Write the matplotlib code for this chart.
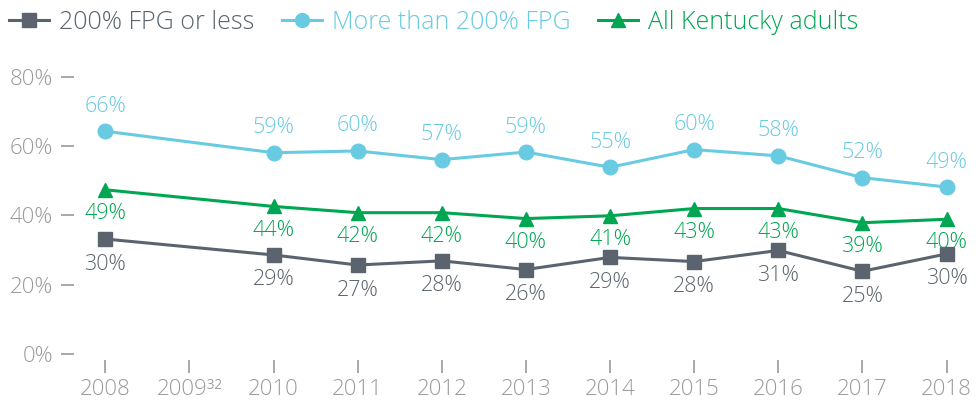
import matplotlib
matplotlib.use('Agg')
import matplotlib.pyplot as plt
import numpy as np

plt.rcParams['font.family'] = ['Open Sans', 'DejaVu Sans']
plt.rcParams['font.weight'] = 'light'

years = ['2008', '2009³²', '2010', '2011', '2012', '2013', '2014', '2015', '2016', '2017', '2018']
x_pos = [0, 2, 3, 4, 5, 6, 7, 8, 9, 10]

# plotted values (as drawn) and the printed labels
low_vals = [33.2, 28.6, 25.7, 26.9, 24.4, 27.9, 26.7, 29.9, 23.9, 28.9]
low_lbls = ['30%', '29%', '27%', '28%', '26%', '29%', '28%', '31%', '25%', '30%']
high_vals = [64.3, 58.1, 58.6, 56.1, 58.3, 53.9, 59.0, 57.2, 50.9, 48.2]
high_lbls = ['66%', '59%', '60%', '57%', '59%', '55%', '60%', '58%', '52%', '49%']
all_vals = [47.4, 42.6, 40.8, 40.8, 39.1, 39.9, 42.0, 42.0, 37.9, 38.9]
all_lbls = ['49%', '44%', '42%', '42%', '40%', '41%', '43%', '43%', '39%', '40%']

c_low = '#5b646e'
c_high = '#68cbe1'
c_all = '#00a651'
c_axis = '#9a9a9a'

fig = plt.figure(figsize=(9.76, 4.11), dpi=100)
ax = fig.add_axes([0.082, 0.130, 0.918, 0.700])

l1, = ax.plot(x_pos, low_vals, color=c_low, lw=2.2, marker='s', ms=10.5, label='200% FPG or less')
l2, = ax.plot(x_pos, high_vals, color=c_high, lw=2.2, marker='o', ms=10.5, label='More than 200% FPG')
l3, = ax.plot(x_pos, all_vals, color=c_all, lw=2.2, marker='^', ms=10.5, label='All Kentucky adults')

for x, v, t in zip(x_pos, high_vals, high_lbls):
    ax.annotate(t, (x, v), xytext=(0, 18), textcoords='offset points', ha='center', va='center',
                color=c_high, fontsize=15.5, annotation_clip=False)
for x, v, t in zip(x_pos, all_vals, all_lbls):
    ax.annotate(t, (x, v), xytext=(0, -17), textcoords='offset points', ha='center', va='center',
                color=c_all, fontsize=15.5, annotation_clip=False)
for x, v, t in zip(x_pos, low_vals, low_lbls):
    ax.annotate(t, (x, v), xytext=(0, -18), textcoords='offset points', ha='center', va='center',
                color=c_low, fontsize=15.5, annotation_clip=False)

ax.set_xlim(-0.3, 10.35)
ax.set_ylim(-1, 82)
ax.set_xticks(range(11))
ax.set_xticklabels(years)
ax.set_yticks([0, 20, 40, 60, 80])
ax.set_yticklabels(['0%', '20%', '40%', '60%', '80%'])

for s in ax.spines.values():
    s.set_visible(False)
ax.spines['left'].set_position(('outward', 4))
ax.spines['bottom'].set_position(('outward', 2))
ax.tick_params(axis='y', length=9.5, width=1.2, color=c_axis, labelcolor=c_axis, labelsize=16, pad=6)
ax.tick_params(axis='x', length=9.5, width=1.2, color=c_axis, labelcolor=c_axis, labelsize=16, pad=4)

fig.legend(handles=[l1, l2, l3], loc='upper left', bbox_to_anchor=(-0.014, 1.03), ncol=3,
           frameon=False, fontsize=18, labelcolor=[c_low, c_high, c_all],
           handlelength=1.6, columnspacing=1.1, handletextpad=0.4, markerscale=0.95)

fig.savefig('out.png', dpi=100)
